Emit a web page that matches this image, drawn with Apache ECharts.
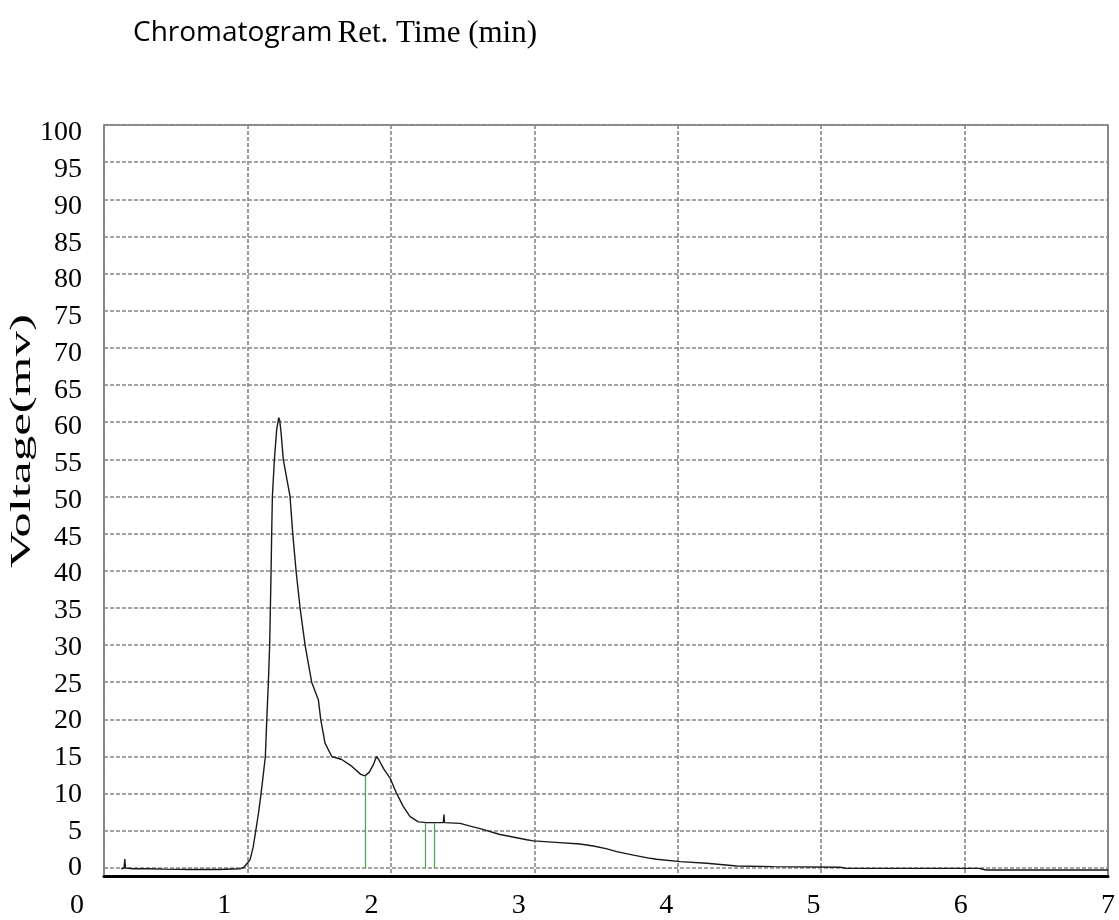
<!DOCTYPE html>
<html>
<head>
<meta charset="utf-8">
<script src="https://cdn.jsdelivr.net/npm/echarts@6/dist/echarts.min.js"></script>
<style>
  html, body { margin: 0; padding: 0; background: #fff; }
  #chart { width: 1119px; height: 920px; }
</style>
</head>
<body>
<div id="chart"></div>
<script>
// Detector trace: retention time (min) and voltage (mV)
const retTime = [
  0.12, 0.14, 0.145, 0.15, 0.2, 0.3, 0.42, 0.6, 0.8, 0.95,
  0.976, 1.018, 1.04, 1.058, 1.078, 1.095, 1.112, 1.125, 1.135, 1.146,
  1.155, 1.160, 1.165, 1.169, 1.174, 1.188, 1.204, 1.218, 1.225, 1.235,
  1.25, 1.297, 1.316, 1.339, 1.367, 1.402, 1.448, 1.495, 1.511, 1.541,
  1.588, 1.657, 1.727, 1.790, 1.820, 1.850, 1.878, 1.900, 1.906, 1.915,
  1.948, 1.994, 2.041, 2.087, 2.134, 2.192, 2.250, 2.300, 2.366, 2.370,
  2.374, 2.483, 2.560, 2.622, 2.761, 2.948, 2.994, 3.150, 3.319, 3.412,
  3.500, 3.575, 3.700, 3.808, 3.854, 4.017, 4.203, 4.412, 4.668, 5.132,
  5.180, 6.100, 6.150, 7.000
];
const voltage = [
  -0.1, 0.0, 1.2, 0.0, -0.1, -0.1, -0.15, -0.2, -0.2, -0.1,
  0.1, 1.1, 2.8, 5.0, 7.5, 10.0, 12.8, 15.0, 20.0, 25.0,
  30.0, 35.0, 40.0, 45.0, 50.0, 55.0, 59.0, 60.6, 60.3, 58.5,
  55.0, 50.0, 45.0, 40.0, 35.0, 30.0, 25.0, 22.6, 20.0, 16.8,
  15.0, 14.6, 13.7, 12.6, 12.4, 12.9, 13.9, 15.0, 15.2, 14.6,
  13.4, 12.1, 10.0, 8.25, 6.9, 6.2, 6.1, 6.1, 6.1, 7.2,
  6.1, 6.0, 5.6, 5.3, 4.5, 3.8, 3.65, 3.45, 3.23, 2.96,
  2.6, 2.2, 1.7, 1.3, 1.17, 0.85, 0.63, 0.27, 0.18, 0.09,
  -0.05, -0.05, -0.27, -0.27
];

// Peak integration markers (time, height)
const markerTimes = [1.82, 2.24, 2.30];
const markerVoltages = [12.4, 6.1, 6.1];

// Axis tick labels
const xTickLabels = ['0', '1', '2', '3', '4', '5', '6', '7'];
const yTickValues = [0, 5, 10, 15, 20, 25, 30, 35, 40, 45, 50, 55, 60, 65, 70, 75, 80, 85, 90, 95, 100];

const SERIF = '"Liberation Serif", "Times New Roman", serif';
const gridLine = { show: true, lineStyle: { color: '#858585', width: 1.6, type: [4, 2] } };

const chart = echarts.init(document.getElementById('chart'), null, { renderer: 'canvas' });

chart.setOption({
  animation: false,
  backgroundColor: '#fff',
  title: {
    left: 133,
    top: 18,
    padding: 0,
    text: '{a|Chromatogram} {b|Ret. Time (min)}',
    textStyle: {
      fontWeight: 'normal',
      rich: {
        a: { fontFamily: '"Open Sans", sans-serif', fontSize: 28, fontWeight: 'normal', color: '#000' },
        b: { fontFamily: SERIF, fontSize: 31, fontWeight: 'normal', color: '#000' }
      }
    }
  },
  graphic: [{
    type: 'text',
    x: 22,
    y: 441,
    rotation: Math.PI / 2,
    scaleX: 1.7,
    style: {
      text: 'Voltage(mv)',
      font: '30px ' + SERIF,
      fill: '#000',
      align: 'center',
      verticalAlign: 'middle'
    }
  }],
  grid: [
    // plot area
    { left: 104, right: 11, top: 125, bottom: 44, show: true, borderColor: '#6e6e6e', borderWidth: 1.6 },
    // x tick label strip
    { left: 77, right: 11, top: 867, bottom: 52 },
    // y tick label strip
    { left: 86, width: 1, top: 133, bottom: 52 }
  ],
  xAxis: [
    {
      type: 'value', gridIndex: 0, min: 0, max: 7, interval: 1,
      axisLine: { show: true, onZero: false, lineStyle: { color: '#000', width: 3 } },
      axisTick: { show: false },
      axisLabel: { show: false },
      splitLine: gridLine
    },
    {
      type: 'category', gridIndex: 1, data: xTickLabels, boundaryGap: false,
      axisLine: { show: false }, axisTick: { show: false },
      axisLabel: { fontFamily: SERIF, fontSize: 28, color: '#000', margin: 24 },
      splitLine: { show: false }
    },
    {
      type: 'value', gridIndex: 2, show: false
    }
  ],
  yAxis: [
    {
      type: 'value', gridIndex: 0, min: -1.08, max: 100,
      axisLine: { show: false },
      axisTick: { show: false, customValues: yTickValues },
      axisLabel: { show: false, customValues: yTickValues },
      splitLine: gridLine
    },
    {
      type: 'value', gridIndex: 1, show: false
    },
    {
      type: 'value', gridIndex: 2, min: 0, max: 100, interval: 5,
      axisLine: { show: false }, axisTick: { show: false },
      axisLabel: { fontFamily: SERIF, fontSize: 28, color: '#000', margin: 4 },
      splitLine: { show: false }
    }
  ],
  series: [
    {
      type: 'line',
      xAxisIndex: 0, yAxisIndex: 0,
      data: retTime.map((t, i) => [t, voltage[i]]),
      showSymbol: false,
      lineStyle: { color: '#1a1a1a', width: 1.4 },
      z: 3,
      markLine: {
        silent: true,
        symbol: 'none',
        label: { show: false },
        lineStyle: { color: '#49a449', width: 1.2, type: 'solid' },
        data: markerTimes.map((t, i) => [{ coord: [t, 0] }, { coord: [t, markerVoltages[i]] }])
      }
    }
  ]
});
</script>
</body>
</html>
